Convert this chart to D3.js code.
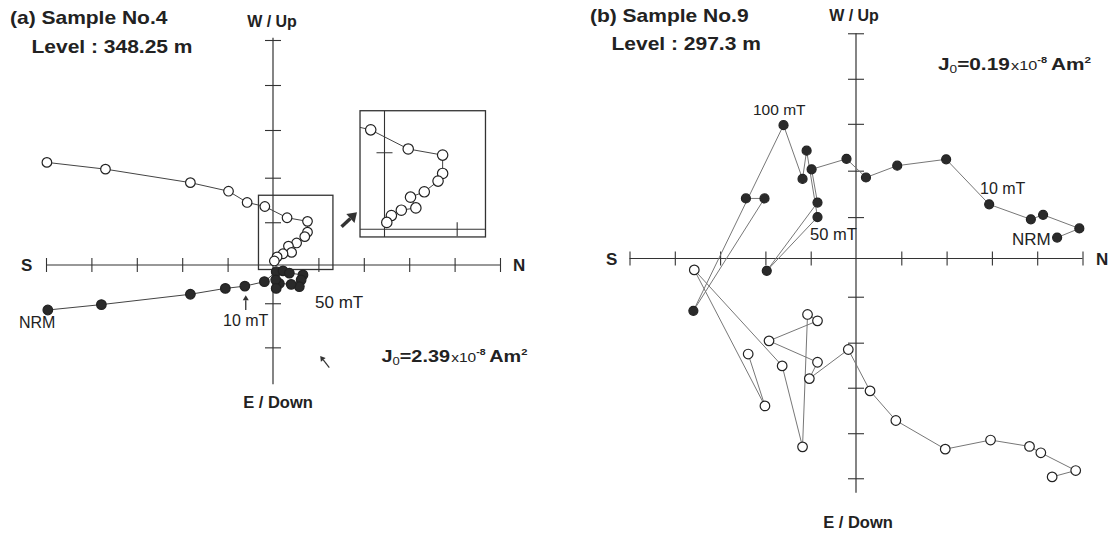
<!DOCTYPE html>
<html lang="en">
<head>
<meta charset="UTF-8">
<title>Zijderveld diagrams - Sample No.4 / No.9</title>
<script src="https://d3js.org/d3.v7.min.js"></script>
<style>
  body { margin: 0; background: #fff; }
  text { font-family: "Liberation Sans", Arial, sans-serif; fill: #222; }
</style>
</head>
<body>
<svg id="chart" width="1112" height="533"></svg>
<script>
// axis ticks (axis units, one unit per tick)
const xTicks = [-5, -4, -3, -2, -1, 1, 2, 3, 4, 5];
const yTicksA = [5, 4, 3, 1.94, 0.95, -0.85, -1.83];
const yTicksB = [4.95, 3.95, 2.96, 1.93, 0.91, -0.84, -1.85, -2.84, -3.84, -4.83];

// (a) Sample No.4 : open = vertical plane (W/Up), filled = horizontal plane (E/Down), NRM first
const openA = [[-4.98, 2.28], [-3.69, 2.13], [-1.82, 1.83], [-0.98, 1.64], [-0.57, 1.39], [-0.18, 1.30],
  [0.31, 1.05], [0.76, 0.97], [0.76, 0.73], [0.70, 0.63], [0.52, 0.49], [0.34, 0.42],
  [0.41, 0.28], [0.22, 0.25], [0.09, 0.18], [0.03, 0.09]];
const filledA = [[-4.96, -1.00], [-3.78, -0.88], [-1.82, -0.65], [-1.05, -0.52], [-0.62, -0.47], [-0.19, -0.37],
  [0.07, -0.15], [0.22, -0.13], [0.36, -0.18], [0.66, -0.22], [0.62, -0.33], [0.58, -0.48],
  [0.40, -0.43], [0.14, -0.41], [0.06, -0.33], [0.07, -0.52]];
// region of (a) blown up in the inset
const zoomX = [-0.32, 1.32], zoomY = [-0.1, 1.55];

// (b) Sample No.9
const openB = [[4.33, -4.80], [4.85, -4.66], [4.08, -4.27], [3.83, -4.13], [2.97, -3.99], [1.97, -4.19],
  [0.88, -3.56], [0.31, -2.91], [-0.17, -2.00], [-1.03, -2.64], [-0.85, -2.28], [-1.92, -1.81],
  [-0.85, -1.37], [-1.07, -1.23], [-1.18, -4.14], [-1.63, -2.36], [-3.57, -0.25], [-2.01, -3.24], [-2.38, -2.10]];
const filledB = [[4.44, 0.46], [4.93, 0.66], [4.13, 0.96], [3.86, 0.86], [2.94, 1.19], [1.99, 2.18],
  [0.91, 2.04], [0.22, 1.78], [-0.21, 2.19], [-0.98, 1.96], [-0.85, 1.23], [-1.97, -0.27],
  [-0.85, 0.91], [-1.09, 2.37], [-1.18, 1.75], [-1.60, 2.93], [-3.59, -1.15], [-2.02, 1.32], [-2.43, 1.32]];

// annotation arrows of (a): [tail, head] in axis units
const arrowsA = [
  { from: [1.51, 0.85], to: [1.85, 1.17], w: 3.5, hl: 9, hw: 6 },
  { from: [-0.60, -1.00], to: [-0.60, -0.67], w: 1.3, hl: 5, hw: 3 },
  { from: [1.24, -2.28], to: [1.04, -2.02], w: 1.2, hl: 5, hw: 3 }
];

const svg = d3.select("#chart");

const xA = d3.scaleLinear().domain([-5, 5]).range([46, 500]);
const yA = d3.scaleLinear().domain([0, 1]).range([265, 220]);
const xI = d3.scaleLinear().domain([0, 1]).range([384.5, 461]);
const yI = d3.scaleLinear().domain([0, 1]).range([229.3, 152.8]);
const xB = d3.scaleLinear().domain([-5, 5]).range([629.5, 1082.5]);
const yB = d3.scaleLinear().domain([0, 1]).range([258.5, 213]);

function axes(g, x, y, yTicks, yTop, yBot) {
  g.append("g").attr("transform", `translate(0,${y(0) - 7})`)
    .call(d3.axisBottom(x).tickValues(xTicks).tickSize(14).tickFormat(""));
  g.append("g").attr("transform", `translate(${x(0) + 8},0)`)
    .call(d3.axisLeft(y).tickValues(yTicks).tickSize(16).tickFormat(""));
  g.selectAll(".domain").remove();
  g.selectAll(".tick line").attr("stroke", "#333").attr("stroke-width", 1.1);
  g.append("line").attr("x1", x(-5)).attr("x2", x(5)).attr("y1", y(0)).attr("y2", y(0))
    .attr("stroke", "#333").attr("stroke-width", 1.2);
  g.append("line").attr("x1", x(0)).attr("x2", x(0)).attr("y1", y(yTop)).attr("y2", y(yBot))
    .attr("stroke", "#333").attr("stroke-width", 1.2);
}

function series(g, data, x, y, filled, lineColor, r) {
  g.append("path").datum(data)
    .attr("d", d3.line().x(d => x(d[0])).y(d => y(d[1])))
    .attr("fill", "none").attr("stroke", lineColor).attr("stroke-width", 1);
  g.selectAll(null).data(data).join("circle")
    .attr("cx", d => x(d[0])).attr("cy", d => y(d[1])).attr("r", r)
    .attr("fill", filled ? "#2a2a2a" : "#fff")
    .attr("stroke", "#222").attr("stroke-width", 1.2);
}

function label(x, y, s, size, weight, sx, anchor) {
  svg.append("text")
    .attr("transform", `translate(${x},${y}) scale(${sx},1)`)
    .attr("font-size", size).attr("font-weight", weight)
    .attr("text-anchor", anchor || "start").text(s);
}

function jText(x, y, val, sx) {
  const t = svg.append("text").attr("transform", `translate(${x},${y}) scale(${sx},1)`)
    .attr("font-size", 16).attr("font-weight", "bold");
  t.append("tspan").text("J");
  t.append("tspan").attr("font-size", 10.5).attr("font-weight", "normal").attr("dy", 3).text("0");
  t.append("tspan").attr("dy", -3).text("=" + val);
  t.append("tspan").attr("font-size", 12.5).attr("font-weight", "normal").attr("dx", 1).text("x10");
  t.append("tspan").attr("font-size", 8.5).attr("dy", -7).text("-8");
  t.append("tspan").attr("dy", 7).attr("dx", 3).text("Am");
  t.append("tspan").attr("font-size", 9).attr("dy", -7).text("2");
}

function arrow(p0, p1, w, hl, hw) {
  const dx = p1[0] - p0[0], dy = p1[1] - p0[1], L = Math.hypot(dx, dy);
  const ux = dx / L, uy = dy / L, nx = -uy, ny = ux;
  const bx = p1[0] - ux * hl, by = p1[1] - uy * hl;
  svg.append("line").attr("x1", p0[0]).attr("y1", p0[1]).attr("x2", bx).attr("y2", by)
    .attr("stroke", "#333").attr("stroke-width", w);
  svg.append("path")
    .attr("d", `M${p1[0]},${p1[1]}L${bx + nx * hw},${by + ny * hw}L${bx - nx * hw},${by - ny * hw}Z`)
    .attr("fill", "#333");
}

// ---------- panel (a) ----------
const gA = svg.append("g");
axes(gA, xA, yA, yTicksA, 5.05, -2.65);

// small box marking the zoomed area
gA.append("rect")
  .attr("x", xA(zoomX[0])).attr("y", yA(zoomY[1]))
  .attr("width", xA(zoomX[1]) - xA(zoomX[0])).attr("height", yA(zoomY[0]) - yA(zoomY[1]))
  .attr("fill", "none").attr("stroke", "#333").attr("stroke-width", 1.3);

series(gA, filledA, xA, yA, true, "#444", 4.8);
series(gA, openA, xA, yA, false, "#444", 4.8);

// inset
const gI = svg.append("g");
svg.append("defs").append("clipPath").attr("id", "insetClip").append("rect")
  .attr("x", xI(zoomX[0])).attr("y", yI(zoomY[1]))
  .attr("width", xI(zoomX[1]) - xI(zoomX[0])).attr("height", yI(zoomY[0]) - yI(zoomY[1]));
const gIc = gI.append("g").attr("clip-path", "url(#insetClip)");
gIc.append("line").attr("x1", xI(0)).attr("x2", xI(0)).attr("y1", yI(zoomY[1])).attr("y2", yI(zoomY[0]))
  .attr("stroke", "#333").attr("stroke-width", 1.1);
gIc.append("line").attr("x1", xI(zoomX[0])).attr("x2", xI(zoomX[1])).attr("y1", yI(0)).attr("y2", yI(0))
  .attr("stroke", "#333").attr("stroke-width", 1.1);
gIc.append("line").attr("x1", xI(0) - 8).attr("x2", xI(0) + 8).attr("y1", yI(1)).attr("y2", yI(1))
  .attr("stroke", "#333").attr("stroke-width", 1.1);
gIc.append("line").attr("x1", xI(0.95)).attr("x2", xI(0.95)).attr("y1", yI(0) - 7).attr("y2", yI(0) + 7)
  .attr("stroke", "#333").attr("stroke-width", 1.1);
series(gIc, openA, xI, yI, false, "#444", 5.2);
gI.append("rect")
  .attr("x", xI(zoomX[0])).attr("y", yI(zoomY[1]))
  .attr("width", xI(zoomX[1]) - xI(zoomX[0])).attr("height", yI(zoomY[0]) - yI(zoomY[1]))
  .attr("fill", "none").attr("stroke", "#333").attr("stroke-width", 1.3);

arrowsA.forEach(a => arrow([xA(a.from[0]), yA(a.from[1])], [xA(a.to[0]), yA(a.to[1])], a.w, a.hl, a.hw));

label(10, 24, "(a) Sample No.4", 17.5, "bold", 1.2);
label(31.5, 52.5, "Level : 348.25 m", 17.5, "bold", 1.2);
label(272, 27, "W / Up", 16, "bold", 1, "middle");
label(278, 408, "E / Down", 16.5, "bold", 1, "middle");
label(21, 271, "S", 17, "bold", 1);
label(513, 271, "N", 17, "bold", 1);
label(19, 328, "NRM", 16, "normal", 1);
label(223, 326, "10 mT", 16, "normal", 1);
label(315, 308, "50 mT", 17, "normal", 1);
jText(381.5, 361.5, "2.39", 1.24);

// ---------- panel (b) ----------
const gB = svg.append("g");
axes(gB, xB, yB, yTicksB, 4.95, -5.15);
series(gB, filledB, xB, yB, true, "#777", 4.5);
series(gB, openB, xB, yB, false, "#777", 4.8);

label(590, 22, "(b) Sample No.9", 17.5, "bold", 1.2);
label(611.5, 50, "Level : 297.3 m", 17.5, "bold", 1.2);
label(854, 21, "W / Up", 16, "bold", 1, "middle");
label(858, 528, "E / Down", 16.5, "bold", 1, "middle");
label(606, 265, "S", 17, "bold", 1);
label(1096, 265, "N", 17, "bold", 1);
label(753, 115, "100 mT", 15.5, "normal", 1);
label(810, 240, "50 mT", 16.5, "normal", 1);
label(980, 194, "10 mT", 16, "normal", 1);
label(1012, 245, "NRM", 17, "normal", 1);
jText(938, 70, "0.19", 1.3);
</script>
</body>
</html>
